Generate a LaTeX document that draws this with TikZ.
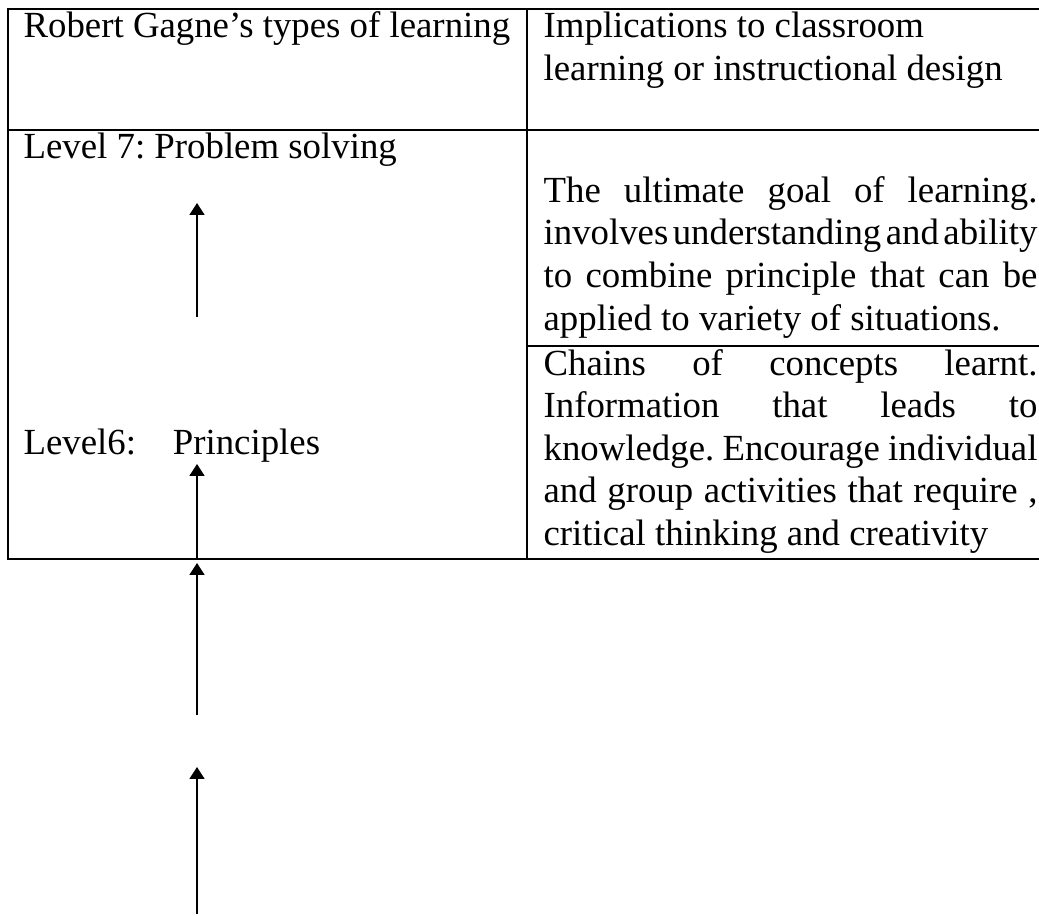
\documentclass[tikz,border=0pt]{standalone}
\usepackage{fontspec}
\setmainfont{Liberation Serif}
\usetikzlibrary{arrows.meta}
\frenchspacing

\newcommand{\jline}[1]{\hbox to 161pt{\spaceskip=0.1em plus 1fil minus 0.05em\relax #1}}

\begin{document}
\begin{tikzpicture}[x=0.326pt,y=-0.326pt]
        \useasboundingbox (0,0) rectangle (1039,915);
        \tikzstyle{every node}=[anchor=base west,inner sep=0pt,font=\fontsize{12}{13.9}\selectfont]
        \tikzstyle{rule}=[line width=0.75pt]
        \tikzstyle{up}=[line width=0.5pt,-{Triangle[width=4.9pt,length=3.9pt]}]

        % table frame
        \draw[rule] (1039,9) -- (8,9) -- (8,559) -- (1039,559);
        \draw[rule] (8,130) -- (1039,130);
        \draw[rule] (527,9) -- (527,559);
        \draw[rule] (527,346) -- (1039,346);

        % header
        \node (head_l) at (23,37) {Robert Gagne’s types of learning};
        \node (head_r1) at (543,37) {Implications to classroom};
        \node (head_r2) at (543,80) {learning or instructional design};

        % levels
        \node (lvl_7) at (23,158) {Level 7: Problem solving};
        \node (lvl_6) at (23,454) {Level6:\quad Principles};

        % implications
        \foreach \t [count=\i] in {{The ultimate goal of learning.},{involves understanding and ability},{to combine principle that can be}} {
            \node (imp7_\i) at (543,202+42.7*\i-42.7) {\jline{\t}};
        }
        \node (imp7_4) at (543,330) {applied to variety of situations.};
        \foreach \t [count=\i] in {{Chains of concepts learnt.},{Information that leads to},{knowledge. Encourage individual},{and group activities that require ,}} {
            \node (imp6_\i) at (543,375+42.5*\i-42.5) {\jline{\t}};
        }
        \node (imp6_5) at (543,545) {critical thinking and creativity};

        % arrows
        \foreach \s/\e [count=\i] in {317/203, 559/464, 715/563, 914/767} {
            \coordinate (tail_\i) at (197,\s);
            \coordinate (tip_\i) at (197,\e);
            \draw[up] (tail_\i) -- (tip_\i);
        }
\end{tikzpicture}
\end{document}
